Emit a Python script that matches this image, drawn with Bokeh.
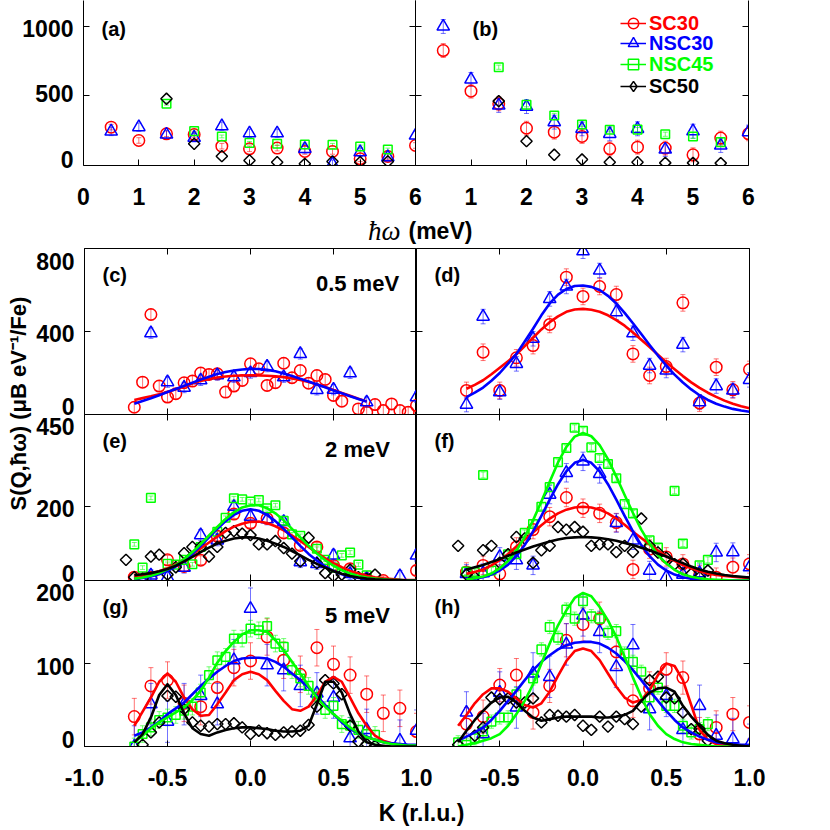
import math
import numpy as np
from bokeh.plotting import figure
from bokeh.models import (ColumnDataSource, FixedTicker, LinearAxis, Label, Legend,
                          LegendItem, Range1d)
from bokeh.layouts import row, column
from bokeh.embed import file_html
from bokeh.resources import INLINE

# ------------------------------------------------------------------ data
SERIES = ["SC30", "NSC30", "NSC45", "SC50"]

# top row: S vs energy transfer
HW = [0.5, 1, 1.5, 2, 2.5, 3, 3.5, 4, 4.5, 5, 5.5, 6]
HW_HI = [1.5, 2, 2.5, 3, 3.5, 4, 4.5, 5, 5.5]
A_SC30 = [276, 180, 228, 223, 139, 120, 125, 101, 101, 48, 65, 144]
A_NSC30 = [245, 276, 223, 200, 283, 232, 232, 120, 10, 96, 60, 216]
A_NSC45 = [444, 247, 209, 163, 156, 151, 149, 137, 115]
A_SC50 = [480, 156, 67, 36, 24, 12, 29, 24, 29]
B_SC30 = [827, 535, 444, 268, 240, 209, 120, 132, 125, 77, 197, 228]
B_NSC30 = [1000, 619, 432, 424, 312, 264, 228, 264, 115, 247, 144, 240]
B_NSC45 = [707, 437, 360, 295, 257, 258, 225, 209, 168]
B_SC50 = [463, 175, 77, 43, 24, 24, 19, 19, 17]

# K grids
K10 = [-0.7, -0.6, -0.5, -0.4, -0.3, -0.2, -0.1, 0.0, 0.1, 0.2, 0.3, 0.4, 0.5, 0.6, 0.7, 0.8, 0.9, 1.0]
K05 = [-0.7, -0.65, -0.6, -0.55, -0.5, -0.45, -0.4, -0.35, -0.3, -0.25, -0.2, -0.15, -0.1, -0.05, 0.0,
       0.05, 0.1, 0.15, 0.2, 0.25, 0.3, 0.35, 0.4, 0.45, 0.5, 0.55, 0.6, 0.65, 0.7, 0.75, 0.8, 0.85,
       0.9, 0.95, 1.0]
K05W = [-0.75, -0.7, -0.65, -0.6, -0.55, -0.5, -0.45, -0.4, -0.35, -0.3, -0.25, -0.2, -0.15, -0.1,
        -0.05, 0.0, 0.05, 0.1, 0.15, 0.2, 0.25, 0.3, 0.35, 0.4, 0.45, 0.5, 0.55, 0.6, 0.65, 0.7, 0.75,
        0.8, 0.85, 0.9, 0.95, 1.0]
K05C = [-0.7, -0.65, -0.6, -0.55, -0.5, -0.45, -0.4, -0.35, -0.3, -0.25, -0.2, -0.15, -0.1, -0.05,
        0.0, 0.05, 0.1, 0.15, 0.2, 0.25, 0.3, 0.35, 0.4, 0.45, 0.5, 0.55, 0.6, 0.65, 0.7]
K_DIAM = [-0.75, -0.7, -0.65, -0.6, -0.55, -0.5, -0.45, -0.4, -0.35, -0.3, -0.25, -0.2, -0.15, -0.1,
          -0.05, 0.0, 0.05, 0.1, 0.15, 0.2, 0.25, 0.3, 0.35, 0.4, 0.45, 0.5, 0.55, 0.6, 0.65, 0.7, 0.75]

# (c) 0.5 meV, SC
C_K_SC30 = [-0.7, -0.65, -0.6, -0.55, -0.5, -0.45, -0.4, -0.35, -0.3, -0.25, -0.2, -0.15, -0.1, -0.05,
            0.0, 0.05, 0.1, 0.15, 0.2, 0.25, 0.3, 0.35, 0.4, 0.45, 0.5, 0.55, 0.65, 0.7, 0.75, 0.8,
            0.85, 0.9, 0.95, 1.0]
C_SC30 = [35, 156, 482, 137, 84, 100, 153, 161, 200, 193, 196, 108, 137, 164, 244, 220, 140, 153,
          247, 177, 212, 151, 188, 169, 92, 64, 27, 11, 48, 19, 51, 19, 11, 43]
C_K_NSC30 = [-0.6, -0.5, -0.4, -0.3, -0.2, -0.1, 0.0, 0.1, 0.2, 0.3, 0.4, 0.5, 0.6, 0.7, 1.0]
C_NSC30 = [392, 156, 130, 165, 190, 180, 200, 231, 180, 292, 119, 120, 199, 59, 84]
C_FIT_SC30 = [70, 79, 88, 98, 108, 122, 136, 149, 162, 171, 178, 183, 187, 188, 189, 188, 187, 184,
              180, 174, 166, 157, 146, 133, 118, 104, 90, 76, 63]
C_FIT_NSC30 = [52, 65, 78, 93, 108, 123, 138, 153, 168, 182, 195, 205, 212, 217, 220, 219, 215, 208,
               198, 186, 172, 159, 145, 131, 116, 102, 88, 75, 62]

# (d) 0.5 meV, NSC
D_SC30 = [116, 300, 116, 273, 332, 434, 662, 569, 617, 578, 292, 188, 231, 538, 55, 228, 119, 217]
D_NSC30 = [48, 472, 108, 244, 365, 557, 617, 787, 694, 493, 392, 236, 212, 337, 60, 137, 116, 167]
D_FIT_SC30 = [124, 143, 165, 194, 225, 257, 290, 330, 370, 410, 445, 473, 495, 506, 509, 505, 495,
              478, 455, 428, 395, 360, 325, 288, 252, 218, 185, 155, 128, 105, 85, 67, 52, 40, 30]
D_FIT_NSC30 = [84, 105, 130, 163, 200, 245, 292, 352, 413, 478, 535, 578, 605, 619, 622, 615, 600,
               572, 535, 490, 440, 388, 335, 284, 236, 192, 154, 121, 93, 70, 52, 38, 27, 19, 13]

# (e) 2 meV, SC
E_K_SC30 = [-0.7, -0.6, -0.5, -0.4, -0.3, -0.2, -0.1, 0.0, 0.1, 0.2, 0.3, 0.4, 0.5, 0.6, 0.7, 0.8, 1.0]
E_SC30 = [9, 9, 56, 38, 55, 120, 180, 155, 168, 129, 95, 91, 41, 32, 5, 0, 27]
E_K_NSC30 = [-0.6, -0.5, -0.4, -0.3, -0.2, -0.1, 0.0, 0.1, 0.2, 0.3, 0.4, 0.5, 0.6, 0.7, 0.9, 1.0]
E_NSC30 = [14, 9, 35, 123, 109, 200, 173, 166, 159, 50, 45, 68, 18, 5, 12, 68]
E_K_NSC45 = [-0.7, -0.65, -0.6, -0.5, -0.45, -0.4, -0.35, -0.3, -0.2, -0.15, -0.1, -0.05, 0.0, 0.05,
             0.1, 0.15, 0.2, 0.25, 0.3, 0.4, 0.45, 0.5, 0.55, 0.6, 0.65, 0.7]
E_NSC45 = [98, 35, 224, 45, 43, 56, 44, 91, 132, 170, 223, 220, 214, 218, 196, 204, 162, 125, 121,
           86, 56, 35, 68, 76, 43, 14]
E_SC50 = [56, 9, 5, 65, 70, 16, 36, 74, 91, 91, 65, 91, 129, 134, 127, 123, 98, 98, 107, 88, 73, 52,
          116, 47, 20, 12, 16, 29, 9, 4, 16]
E_FIT_SC30 = [8, 12, 18, 25, 33, 44, 57, 71, 87, 103, 119, 134, 146, 154, 159, 160, 156, 147, 136,
              122, 107, 91, 75, 60, 47, 36, 26, 19, 13, 9, 6, 4, 2, 1, 1]
E_FIT_NSC30 = [4, 7, 11, 17, 26, 38, 54, 72, 94, 117, 140, 161, 178, 189, 193, 189, 178, 161, 140,
               117, 94, 72, 54, 38, 26, 17, 11, 7, 4, 2, 1, 0, 0, 0, 0]
E_FIT_NSC45 = [5, 8, 13, 20, 30, 42, 58, 77, 99, 122, 145, 167, 185, 198, 204, 204, 196, 182, 163,
               140, 117, 94, 73, 55, 40, 28, 19, 12, 8, 5, 3, 1, 1, 0, 0]
E_FIT_SC50 = [14, 17, 20, 25, 31, 40, 52, 64, 77, 89, 100, 108, 114, 117, 117, 114, 108, 100, 91, 80,
              68, 56, 45, 35, 25, 18, 12, 8, 5, 3, 2, 1, 1, 0, 0]

# (f) 2 meV, NSC
F_SC30 = [23, 41, 18, 91, 138, 173, 225, 196, 182, 157, 30, 85, 64, 45, 15, 9, 36, 45]
F_NSC30 = [18, 20, 64, 55, 41, 233, 292, 323, 289, 156, 109, 27, 9, 16, 20, 76, 77, 36]
F_K_NSC45 = [-0.7, -0.65, -0.6, -0.55, -0.45, -0.4, -0.35, -0.3, -0.25, -0.2, -0.15, -0.1, -0.05,
             0.0, 0.05, 0.1, 0.15, 0.2, 0.25, 0.3, 0.4, 0.45, 0.55, 0.6, 0.7, 0.75]
F_NSC45 = [24, 23, 286, 27, 71, 71, 129, 153, 200, 253, 321, 359, 414, 406, 361, 332, 316, 277, 207,
           182, 109, 89, 243, 100, 41, 56]
F_SC50 = [94, 16, 9, 82, 94, 48, 71, 118, 114, 48, 82, 94, 145, 138, 145, 132, 94, 98, 98, 77, 94, 77,
          168, 94, 76, 62, 44, 45, 18, 9, 27]
F_FIT_SC30 = [18, 23, 30, 41, 55, 72, 92, 111, 130, 150, 168, 182, 192, 198, 200, 198, 192, 182, 168,
              151, 132, 115, 98, 81, 66, 53, 42, 33, 25, 19, 15, 12, 10, 8, 7]
F_FIT_NSC30 = [2, 5, 9, 16, 27, 43, 66, 96, 133, 175, 219, 261, 296, 319, 327, 319, 296, 261, 219,
               175, 133, 96, 66, 43, 27, 16, 9, 5, 2, 1, 0, 0, 0, 0, 0]
F_FIT_NSC45 = [3, 6, 11, 19, 33, 53, 81, 118, 163, 214, 268, 320, 362, 390, 400, 391, 367, 329, 282,
               232, 183, 138, 100, 69, 46, 29, 17, 10, 6, 3, 2, 1, 0, 0, 0]
F_FIT_SC50 = [30, 36, 42, 50, 58, 67, 76, 84, 92, 99, 106, 111, 115, 117, 118, 117, 115, 112, 108,
              102, 96, 89, 82, 73, 65, 56, 47, 38, 30, 24, 19, 15, 12, 10, 8]

# (g) 5 meV, SC
G_SC30 = [36, 73, 80, 52, 48, 71, 95, 103, 132, 104, 87, 119, 99, 86, 63, 40, 46, 18]
G_K_NSC30 = [-0.7, -0.6, -0.5, -0.4, -0.3, -0.2, -0.1, 0.0, 0.1, 0.2, 0.3, 0.4, 0.5, 0.6, 0.7, 0.9, 1.0]
G_NSC30 = [0, 51, 30, 51, 61, 51, 104, 166, 98, 92, 73, 64, 59, 10, 20, 7, 19]
G_K_NSC45 = [-0.7, -0.65, -0.6, -0.55, -0.5, -0.45, -0.4, -0.35, -0.3, -0.25, -0.2, -0.15, -0.1,
             -0.05, 0.0, 0.05, 0.1, 0.15, 0.2, 0.25, 0.3, 0.35, 0.4, 0.45, 0.5, 0.55, 0.6, 0.65, 0.7,
             0.75]
G_NSC45 = [0, 15, 23, 32, 35, 38, 43, 48, 65, 86, 104, 108, 130, 130, 142, 140, 145, 124, 120, 92, 82,
           73, 60, 44, 49, 27, 25, 20, 15, 14]
G_K_SC50 = [-0.65, -0.6, -0.55, -0.5, -0.45, -0.4, -0.35, -0.3, -0.25, -0.2, -0.15, -0.1, -0.05, 0.0,
            0.05, 0.1, 0.15, 0.2, 0.25, 0.3, 0.35, 0.4, 0.45, 0.5, 0.55, 0.6, 0.65, 0.7, 0.75]
G_SC50 = [2, 17, 29, 61, 60, 45, 29, 25, 24, 27, 27, 28, 23, 15, 19, 16, 14, 17, 18, 19, 26, 48, 80,
          76, 63, 25, 6, 3, 1]
G_FIT_SC30 = [25, 42, 59, 78, 88, 78, 59, 45, 37, 38, 51, 65, 80, 87, 90, 87, 80, 67, 55, 45, 43, 48,
              61, 78, 84, 78, 59, 40, 25, 13, 7, 4, 2, 1, 0]
G_FIT_NSC30 = [13, 17, 23, 30, 39, 46, 53, 63, 73, 82, 90, 97, 103, 106, 107, 107, 106, 102, 96, 88,
               80, 71, 61, 50, 39, 29, 21, 16, 12, 8, 5, 4, 3, 2, 2]
G_FIT_NSC45 = [5, 13, 22, 29, 35, 41, 47, 56, 67, 83, 101, 115, 126, 135, 140, 140, 138, 128, 116,
               102, 88, 73, 59, 48, 39, 31, 23, 16, 11, 8, 5, 3, 2, 1, 1]
G_FIT_SC50 = [5, 15, 35, 62, 75, 62, 40, 22, 15, 13, 17, 20, 22, 23, 23, 22, 21, 19, 18, 18, 19, 25,
              51, 78, 78, 65, 39, 18, 5, 2, 1, 0, 0, 0, 0]

# (h) 5 meV, NSC
H_SC30 = [27, 36, 74, 86, 41, 73, 128, 147, 154, 114, 55, 70, 93, 83, 15, 23, 39, 29]
H_NSC30 = [41, 15, 65, 47, 88, 84, 123, 158, 138, 96, 122, 45, 61, 20, 49, 13, 9, 2]
H_K_NSC45 = [-0.75, -0.7, -0.65, -0.6, -0.55, -0.5, -0.45, -0.4, -0.3, -0.25, -0.2, -0.15, -0.1,
             -0.05, 0.0, 0.05, 0.1, 0.15, 0.2, 0.25, 0.3, 0.35, 0.4, 0.45, 0.5, 0.55, 0.6, 0.65, 0.7,
             0.75]
H_NSC45 = [5, 2, 10, 18, 30, 35, 35, 63, 82, 117, 144, 131, 165, 154, 175, 157, 154, 137, 139, 112,
           102, 90, 59, 71, 49, 49, 25, 17, 21, 27]
H_K_SC50 = [-0.75, -0.65, -0.6, -0.55, -0.5, -0.45, -0.4, -0.35, -0.3, -0.25, -0.2, -0.15, -0.1,
            -0.05, 0.0, 0.05, 0.1, 0.15, 0.2, 0.25, 0.3, 0.35, 0.4, 0.45, 0.5, 0.55, 0.6, 0.65, 0.7,
            0.75]
H_SC50 = [2, 13, 23, 59, 57, 58, 53, 53, 58, 29, 38, 37, 36, 38, 25, 20, 36, 24, 36, 33, 27, 48, 80,
          84, 59, 58, 41, 21, 21, 7]
H_FIT_SC30 = [25, 38, 52, 63, 70, 70, 66, 58, 50, 47, 52, 66, 85, 103, 115, 118, 115, 104, 88, 72, 59,
              53, 56, 68, 86, 100, 97, 80, 50, 20, 8, 3, 2, 1, 0, 0]
H_FIT_NSC30 = [7, 12, 17, 23, 32, 43, 55, 67, 80, 92, 102, 110, 117, 122, 125, 126, 126, 124, 119,
               112, 103, 92, 80, 67, 55, 43, 32, 23, 17, 12, 8, 5, 4, 3, 2, 2]
H_FIT_NSC45 = [0, 2, 4, 7, 10, 15, 25, 39, 55, 75, 100, 124, 146, 164, 179, 185, 181, 168, 152, 132,
               108, 83, 60, 39, 25, 15, 9, 5, 3, 2, 1, 0, 0, 0, 0, 0]
H_FIT_SC50 = [5, 19, 32, 43, 53, 59, 60, 53, 43, 35, 31, 33, 35, 36, 36, 36, 36, 35, 35, 36, 38, 43,
              55, 65, 70, 71, 66, 49, 36, 25, 14, 7, 4, 2, 1, 0]

# typical error-bar half widths per series and panel
ERR_A = {"SC30": 20, "NSC30": 30, "NSC45": 10}
ERR_B = {"SC30": 50, "NSC30": 50, "NSC45": 15}
ERR_C = {"SC30": 25, "NSC30": 25}
ERR_D = {"SC30": 40, "NSC30": 35}
ERR_E = {"SC30": 12, "NSC30": 15, "NSC45": 5}
ERR_F = {"SC30": 25, "NSC30": 25, "NSC45": 8}
ERR_G = {"SC30": 22, "NSC30": 25, "NSC45": 10}
ERR_H = {"SC30": 20, "NSC30": 25, "NSC45": 8}

# ------------------------------------------------------------------ style
FONT = "Liberation Sans"
COLOR = {"SC30": "#ff0000", "NSC30": "#0000ff", "NSC45": "#00ff00", "SC50": "#000000"}
MARK = {"SC30": dict(marker="circle", size=11.5, angle=0.0),
        "NSC30": dict(marker="triangle", size=12.5, angle=0.0),
        "NSC45": dict(marker="square", size=8.6, angle=0.0),
        "SC50": dict(marker="square", size=8.0, angle=math.pi / 4)}
LEGEND_MARK = {"SC30": "circle", "NSC30": "triangle", "NSC45": "square", "SC50": "diamond"}


def new_fig(xr, yr, fw, fh, bl, br, bt, bb, outline=True):
    p = figure(x_range=Range1d(*xr), y_range=Range1d(*yr), frame_width=fw, frame_height=fh,
               min_border_left=bl, min_border_right=br, min_border_top=bt, min_border_bottom=bb,
               x_axis_location=None, y_axis_location=None, toolbar_location=None,
               output_backend="svg", title=None)
    p.grid.visible = False
    p.outline_line_color = "black" if outline else None
    p.background_fill_color = "white"
    p.border_fill_color = None
    return p


def style_labels(ax, standoff):
    ax.major_label_text_font = FONT
    ax.major_label_text_font_style = "bold"
    ax.major_label_text_font_size = "23px"
    ax.major_label_text_color = "black"
    ax.major_label_standoff = standoff


def add_axis(p, side, ticks, labels=None, standoff=10):
    ax = LinearAxis(ticker=FixedTicker(ticks=ticks, minor_ticks=[]))
    ax.major_tick_in = 6
    ax.major_tick_out = 0
    ax.minor_tick_in = 0
    ax.minor_tick_out = 0
    ax.axis_line_color = "black"
    ax.axis_line_width = 1
    ax.major_tick_line_color = "black"
    ax.major_tick_line_width = 1
    if labels is None:
        ax.major_label_text_font_size = "0px"
        ax.major_label_standoff = 0
        ax.major_label_overrides = {t: "" for t in ticks}
    else:
        ax.major_label_overrides = labels
        style_labels(ax, standoff)
    p.add_layout(ax, side)


def value_labels(p, ticks, fh, v_a, y_a, v_b, y_b):
    """Left tick labels on a label-only axis whose range puts value v_a at y_a px
    and v_b at y_b px below the frame top (keeps the end labels inside each panel)."""
    s = (y_b - y_a) / (v_a - v_b)
    hi = v_a + y_a / s
    lo = hi - fh / s
    p.extra_y_ranges = {"labels": Range1d(lo, hi)}
    ax = LinearAxis(y_range_name="labels", ticker=FixedTicker(ticks=ticks, minor_ticks=[]))
    ax.axis_line_color = None
    ax.major_tick_line_color = None
    ax.major_tick_in = 0
    ax.major_tick_out = 0
    ax.minor_tick_line_color = None
    ax.major_label_overrides = {t: str(t) for t in ticks}
    style_labels(ax, 10)
    p.add_layout(ax, "left")


def note(p, s, x, y, size, align="left", units="screen", baseline="alphabetic",
         font=FONT, style="bold", angle=0.0):
    p.add_layout(Label(x=x, y=y, x_units=units, y_units=units, text=s, text_font=font,
                       text_font_style=style, text_font_size=size, text_align=align,
                       text_baseline=baseline, text_color="black", angle=angle))


def draw(p, pts, errs, fits):
    for s in SERIES:
        if s in pts and errs.get(s, 0):
            xs, ys = pts[s]
            e = errs[s]
            src = ColumnDataSource(dict(x=xs, lo=[v - e for v in ys], hi=[v + e for v in ys]))
            p.segment(x0="x", y0="lo", x1="x", y1="hi", source=src, line_color=COLOR[s],
                      line_alpha=0.55, line_width=1)
            for col in ("lo", "hi"):
                p.scatter(x="x", y=col, source=src, marker="dash", size=5, line_color=COLOR[s],
                          line_alpha=0.55, line_width=1)
    for s in SERIES:
        if s in pts:
            xs, ys = pts[s]
            p.scatter(x=xs, y=ys, fill_color=None, line_color=COLOR[s], line_width=1.5, **MARK[s])
    for s in SERIES:
        if s in fits:
            kx, ky = fits[s]
            p.line(x=kx, y=ky, line_color=COLOR[s], line_width=2.6, line_join="round")


def strip(w, h):
    s = figure(width=w, height=h, x_range=Range1d(0, w), y_range=Range1d(0, h), min_border=0,
               x_axis_location=None, y_axis_location=None, toolbar_location=None,
               output_backend="svg", title=None)
    s.grid.visible = False
    s.outline_line_color = None
    s.border_fill_color = None
    s.background_fill_color = None
    return s


HW_TICKS = [0, 1, 2, 3, 4, 5, 6]
K_TICKS = [-1, -0.5, 0, 0.5, 1]
K_INNER = [-0.5, 0, 0.5]

# ------------------------------------------------------------------ (a), (b)
pa = new_fig((0, 6), (0, 1187), 332, 165, 83, 20, 0, 48, outline=False)
add_axis(pa, "left", [500, 1000])
value_labels(pa, [0, 500, 1000], 165, 1000, 27.5, 0, 158.5)
add_axis(pa, "right", [500, 1000])
add_axis(pa, "below", HW_TICKS, {0: "0", 1: "1", 2: "2", 3: "3", 4: "4", 5: "5", 6: "6"}, standoff=22)
draw(pa, {"SC30": (HW, A_SC30), "NSC30": (HW, A_NSC30), "NSC45": (HW_HI, A_NSC45),
          "SC50": (HW_HI, A_SC50)}, ERR_A, {})
note(pa, "(a)", 18, 137, "20px")

pb = new_fig((0, 6), (0, 1187), 333, 165, 0, 20, 0, 48, outline=False)
pb.styles = {"margin-left": "-20px"}
add_axis(pb, "left", [500, 1000])
add_axis(pb, "right", [500, 1000])
add_axis(pb, "below", HW_TICKS, {0: "", 1: "1", 2: "2", 3: "3", 4: "4", 5: "5", 6: "6"}, standoff=22)
draw(pb, {"SC30": (HW, B_SC30), "NSC30": (HW, B_NSC30), "NSC45": (HW_HI, B_NSC45),
          "SC50": (HW_HI, B_SC50)}, ERR_B, {})
note(pb, "(b)", 57, 137, "20px")

# legend: one Legend per entry so each label keeps its series colour
NAN = np.array([np.nan])
for s, y0 in zip(SERIES, [129, 109, 88, 66]):
    ln = pb.line(x=NAN, y=NAN, line_color=COLOR[s], line_width=1.5)
    mk = pb.scatter(x=NAN, y=NAN, marker=LEGEND_MARK[s], fill_color=None, line_color=COLOR[s],
                    line_width=1.5)
    leg = Legend(items=[LegendItem(label=s, renderers=[ln, mk])], location=(205, y0),
                 border_line_color=None, background_fill_alpha=0, padding=0, margin=0, spacing=0,
                 glyph_width=26, glyph_height=26, label_height=20, label_standoff=3,
                 label_text_font=FONT, label_text_font_style="bold", label_text_font_size="20px",
                 label_text_color=COLOR[s])
    pb.add_layout(leg)


# ------------------------------------------------------------------ K panels
def k_panel(left, yr, bt, bb, br, ymid, letter, lab_pos=None, energy=None, xlabels=None):
    fw = 332 if left else 333
    bl = 50 if left else 0
    p = new_fig((-1, 1), yr, fw, 166, bl, br, bt, bb)
    add_axis(p, "left", [ymid])
    if left:
        value_labels(p, [0, ymid, yr[1]], 166, yr[1], lab_pos[0], 0, lab_pos[1])
    add_axis(p, "right", [ymid])
    add_axis(p, "above", K_INNER)
    if xlabels is None:
        add_axis(p, "below", K_INNER)
    else:
        add_axis(p, "below", K_TICKS, xlabels, standoff=22)
    note(p, letter, 18, 140, "20px")
    if energy:
        note(p, energy, 273, 131, "22px", align="center")
    return p


pc = k_panel(True, (0, 800), 2, 8, 0, 400, "(c)", (12.5, 157.5), "0.5 meV")
draw(pc, {"SC30": (C_K_SC30, C_SC30), "NSC30": (C_K_NSC30, C_NSC30)}, ERR_C,
     {"SC30": (K05C, C_FIT_SC30), "NSC30": (K05C, C_FIT_NSC30)})
pd = k_panel(False, (0, 800), 2, 8, 20, 400, "(d)")
draw(pd, {"SC30": (K10, D_SC30), "NSC30": (K10, D_NSC30)}, ERR_D,
     {"SC30": (K05, D_FIT_SC30), "NSC30": (K05, D_FIT_NSC30)})

pe = k_panel(True, (0, 450), 8, 8, 0, 200, "(e)", (11.5, 159.3), "2 meV")
draw(pe, {"SC30": (E_K_SC30, E_SC30), "NSC30": (E_K_NSC30, E_NSC30),
          "NSC45": (E_K_NSC45, E_NSC45), "SC50": (K_DIAM, E_SC50)}, ERR_E,
     {"SC30": (K05, E_FIT_SC30), "NSC30": (K05, E_FIT_NSC30), "NSC45": (K05, E_FIT_NSC45),
      "SC50": (K05, E_FIT_SC50)})
pf = k_panel(False, (0, 450), 8, 8, 20, 200, "(f)")
draw(pf, {"SC30": (K10, F_SC30), "NSC30": (K10, F_NSC30), "NSC45": (F_K_NSC45, F_NSC45),
          "SC50": (K_DIAM, F_SC50)}, ERR_F,
     {"SC30": (K05, F_FIT_SC30), "NSC30": (K05, F_FIT_NSC30), "NSC45": (K05, F_FIT_NSC45),
      "SC50": (K05, F_FIT_SC50)})

pg = k_panel(True, (0, 200), 8, 48, 20, 100, "(g)", (12, 159), "5 meV",
             xlabels={-1: "-1.0", -0.5: "-0.5", 0: "0.0", 0.5: "0.5", 1: "1.0"})
draw(pg, {"SC30": (K10, G_SC30), "NSC30": (G_K_NSC30, G_NSC30), "NSC45": (G_K_NSC45, G_NSC45),
          "SC50": (G_K_SC50, G_SC50)}, ERR_G,
     {"SC30": (K05, G_FIT_SC30), "NSC30": (K05, G_FIT_NSC30), "NSC45": (K05, G_FIT_NSC45),
      "SC50": (K05, G_FIT_SC50)})
ph = k_panel(False, (0, 200), 8, 48, 20, 100, "(h)",
             xlabels={-1: "", -0.5: "-0.5", 0: "0.0", 0.5: "0.5", 1: "1.0"})
ph.styles = {"margin-left": "-20px"}
draw(ph, {"SC30": (K10, H_SC30), "NSC30": (K10, H_NSC30), "NSC45": (H_K_NSC45, H_NSC45),
          "SC50": (H_K_SC50, H_SC50)}, ERR_H,
     {"SC30": (K05W, H_FIT_SC30), "NSC30": (K05W, H_FIT_NSC30), "NSC45": (K05W, H_FIT_NSC45),
      "SC50": (K05W, H_FIT_SC50)})

# ------------------------------------------------------------------ label strips
s1 = strip(768, 33)
note(s1, "ħω", 400, 16, "27px", align="right", units="data", baseline="middle",
     font="Liberation Serif", style="italic")
note(s1, "(meV)", 408, 16, "23px", units="data", baseline="middle")

ys = strip(33, 548)
note(ys, "S(Q,ħω) (μB eV⁻¹/Fe)", 18, 284, "22px", align="left", units="data",
     angle=math.pi / 2)

s3 = strip(768, 36)
note(s3, "K (r.l.u.)", 421, 18, "23px", align="center", units="data", baseline="middle")

# rows of the K panels overlap by their (transparent) borders so frames touch
row_cd = row(pc, pd)
row_ef = row(pe, pf, styles={"margin-top": "-16px"})
row_gh = row(pg, ph, styles={"margin-top": "-16px"})

layout = column(
    row(pa, pb),
    s1,
    row(ys, column(row_cd, row_ef, row_gh)),
    s3,
)

open("out.html", "w").write(file_html(layout, INLINE))
